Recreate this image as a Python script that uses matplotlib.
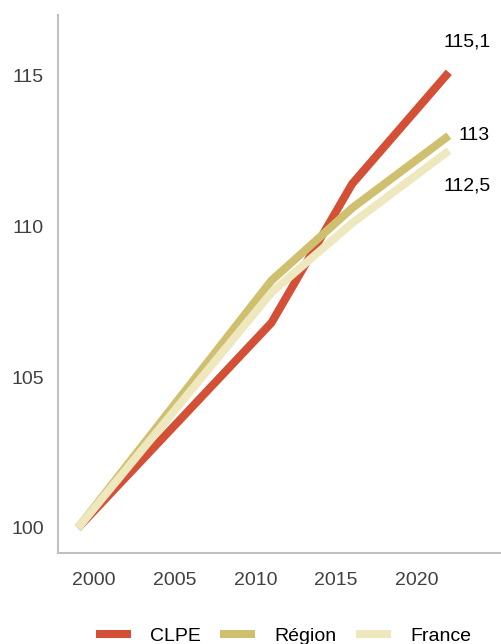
import matplotlib
matplotlib.use("Agg")
import matplotlib.pyplot as plt

plt.rcParams['font.family'] = ['Liberation Sans', 'DejaVu Sans']

# Indice base 100 en 1999
years = [1999, 2011, 2016, 2022]
clpe = [100, 106.8, 111.4, 115.1]
region = [100, 108.2, 110.6, 113]
france = [100, 107.8, 110.1, 112.5]

series_names = ["CLPE", "Région", "France"]
end_labels = ["115,1", "113", "112,5"]
colors = ["#d34f35", "#cfc06f", "#efe8bf"]

fig = plt.figure(figsize=(5.02, 6.44), dpi=100)
ax = fig.add_axes([0.1155, 0.1413, 0.8845, 0.8354])

for vals, name, col in zip([clpe, region, france], series_names, colors):
    ax.plot(years, vals, color=col, lw=5.8, label=name, solid_capstyle='butt')

# end-of-line value labels
ax.annotate(end_labels[0], (years[-1], clpe[-1]), xytext=(-4, 22),
            textcoords='offset points', fontsize=14, ha='left', va='center')
ax.annotate(end_labels[1], (years[-1], region[-1]), xytext=(7, 0),
            textcoords='offset points', fontsize=14, ha='left', va='center')
ax.annotate(end_labels[2], (years[-1], france[-1]), xytext=(-4, -25),
            textcoords='offset points', fontsize=14, ha='left', va='center')

ax.set_xlim(1997.76, 2025.3)
ax.set_ylim(99.17, 117)
ax.set_xticks([2000, 2005, 2010, 2015, 2020])
ax.set_yticks([100, 105, 110, 115])

for s in ['top', 'right']:
    ax.spines[s].set_visible(False)
for s in ['left', 'bottom']:
    ax.spines[s].set_color('#c0c0c0')
    ax.spines[s].set_linewidth(1.5)

ax.tick_params(axis='both', length=0, labelsize=14, labelcolor='#404040')
ax.tick_params(axis='y', pad=10)
ax.tick_params(axis='x', pad=14)

fig.legend(loc='lower center', ncol=3, frameon=False, fontsize=14,
           handlelength=1.8, handletextpad=1.0, columnspacing=1.0,
           bbox_to_anchor=(0.565, -0.028))

fig.savefig("out.png", dpi=100)
